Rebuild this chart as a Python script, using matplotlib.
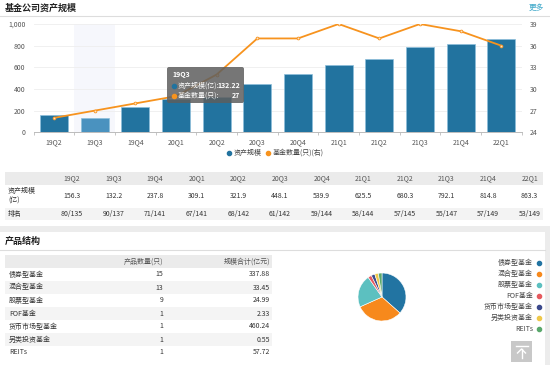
import matplotlib
matplotlib.use('Agg')
import matplotlib.pyplot as plt
from matplotlib.patches import Rectangle, FancyBboxPatch
from matplotlib.ticker import FuncFormatter
import numpy as np

plt.rcParams['font.family'] = ['Noto Sans CJK SC', 'DejaVu Sans']

# data
quarters = ['19Q2', '19Q3', '19Q4', '20Q1', '20Q2', '20Q3', '20Q4', '21Q1', '21Q2', '21Q3', '21Q4', '22Q1']
assets = [156.3, 132.2, 237.8, 309.1, 321.9, 448.1, 539.9, 625.5, 680.3, 792.1, 814.8, 863.3]
fund_counts = [26, 27, 28, 29, 32, 37, 37, 39, 37, 39, 38, 36]
ranks = ['80/135', '90/137', '71/141', '67/141', '68/142', '61/142', '59/144', '58/144', '57/145', '55/147', '57/149', '53/149']

products = ['债券型基金', '混合型基金', '股票型基金', 'FOF基金', '货币市场型基金', '另类投资基金', 'REITs']
product_counts = [15, 13, 9, 1, 1, 1, 1]
product_sizes = ['337.88', '33.45', '24.99', '2.33', '460.24', '0.55', '57.72']
pie_colors = ['#2274a2', '#f7891c', '#5cc0c0', '#e65a5f', '#3c4a8c', '#eec84a', '#5aa86c']

blue = '#22739f'
orange = '#f7931e'
txt = '#333333'

fig = plt.figure(figsize=(5.5, 3.65), dpi=100)
bg = fig.add_axes([0, 0, 1, 1])
bg.set_xlim(0, 550)
bg.set_ylim(365, 0)
bg.axis('off')

# header part
bg.text(5, 8, '基金公司资产规模', fontsize=6.5, fontweight='bold', color='#222', va='center')
bg.text(536, 8, '更多', fontsize=5.5, color='#3aa6c8', va='center', ha='center')
bg.plot([0, 550], [16, 16], color='#dddddd', lw=0.8)

# main chart
ax = fig.add_axes([33.7 / 550, 1 - 132.3 / 365, 487.9 / 550, 108.3 / 365])
ax.patch.set_alpha(0)
x = np.arange(len(quarters))
bar_cols = [blue] * len(quarters)
bar_cols[1] = '#4a92bf'
ax.axvspan(0.5, 1.5, color='#f6f7fc', zorder=0, lw=0)
ax.bar(x, assets, width=0.69, color=bar_cols, edgecolor='#8cbfdb', lw=0.5, zorder=2)
ax.set_xlim(-0.5, len(quarters) - 0.5)
ax.set_ylim(0, 1000)
ax.set_yticks(range(0, 1001, 200))
ax.yaxis.set_major_formatter(FuncFormatter(lambda v, p: f'{int(v):,}'))
ax.set_xticks(x)
ax.set_xticklabels(quarters)
ax.set_xticks(np.arange(-0.5, len(quarters)), minor=True)
ax.yaxis.grid(True, color='#eeeeee', lw=0.6)
ax.set_axisbelow(True)
for s in ['top', 'right', 'left']:
    ax.spines[s].set_visible(False)
ax.spines['bottom'].set_color('#bbbbbb')
ax.spines['bottom'].set_linewidth(0.7)
ax.tick_params(axis='y', length=0, labelsize=5, labelcolor='#555', pad=6)
ax.tick_params(axis='x', which='major', length=0, labelsize=5, labelcolor='#555', pad=4)
ax.tick_params(axis='x', which='minor', length=2.5, color='#bbbbbb', width=0.6)

ax2 = ax.twinx()
ax2.plot(x, fund_counts, color=orange, lw=1.3, marker='o', ms=2, mfc='#fde3c3', mec=orange, mew=0.6, zorder=3)
ax2.set_ylim(24, 39)
ax2.set_yticks(range(24, 40, 3))
for s in ax2.spines.values():
    s.set_visible(False)
ax2.tick_params(axis='y', length=0, labelsize=5, labelcolor='#555', pad=6)

# legend
bg.plot(229, 153, 'o', color=blue, ms=3)
bg.text(234, 153, '资产规模', fontsize=5, color='#444', va='center')
bg.plot(268, 153, 'o', color=orange, ms=3)
bg.text(273, 153, '基金数量(只)(右)', fontsize=5, color='#444', va='center')

# table 1
bg.add_patch(Rectangle((5, 172), 538, 12.5, color='#ebebeb', lw=0))
bg.add_patch(Rectangle((5, 208), 538, 12, color='#f3f3f3', lw=0))
col_x = [72 + i * 41.6 for i in range(len(quarters))]
for i, q in enumerate(quarters):
    bg.text(col_x[i], 178.5, q, fontsize=5, color='#555', ha='center', va='center')
    bg.text(col_x[i], 196, f'{assets[i]:.1f}', fontsize=5, color=txt, ha='center', va='center')
    bg.text(col_x[i], 214, ranks[i], fontsize=5, color=txt, ha='center', va='center')
bg.text(8, 191, '资产规模', fontsize=5, color=txt, va='center')
bg.text(8, 201, '(亿)', fontsize=5, color=txt, va='center')
bg.text(8, 214, '排名', fontsize=5, color=txt, va='center')

# section separators
bg.add_patch(Rectangle((0, 226), 550, 6, color='#ececec', lw=0))
bg.add_patch(Rectangle((545, 226), 5, 139, color='#ececec', lw=0))
bg.text(5, 241, '产品结构', fontsize=6.5, fontweight='bold', color='#222', va='center')
bg.plot([0, 545], [250, 250], color='#dddddd', lw=0.8)

# product table
bg.add_patch(Rectangle((5, 255), 267, 13, color='#ebebeb', lw=0))
bg.text(163, 261.5, '产品数量(只)', fontsize=5, color='#555', ha='right', va='center')
bg.text(270, 261.5, '规模合计(亿元)', fontsize=5, color='#555', ha='right', va='center')
for i, name in enumerate(products):
    yc = 274.5 + 13 * i
    if i % 2 == 1:
        bg.add_patch(Rectangle((5, yc - 6.5), 267, 13, color='#f4f4f4', lw=0))
    bg.text(9, yc, name, fontsize=5, color=txt, va='center')
    bg.text(163, yc, str(product_counts[i]), fontsize=5, color=txt, ha='right', va='center')
    bg.text(270, yc, product_sizes[i], fontsize=5, color=txt, ha='right', va='center')

# pie
axp = fig.add_axes([352 / 550, 1 - 327 / 365, 60 / 550, 60 / 365])
axp.pie(product_counts, colors=pie_colors, startangle=90, counterclock=False,
        wedgeprops=dict(edgecolor='white', linewidth=0.4))
axp.set_aspect('equal')

for i, name in enumerate(products):
    yc = 263 + 11 * i
    bg.text(533, yc, name, fontsize=5, color='#444', ha='right', va='center')
    bg.plot(539, yc, 'o', color=pie_colors[i], ms=3)

# back-to-top button
bg.add_patch(Rectangle((511, 341), 21, 21, color='#c8c8c8', lw=0))
bg.plot([515.5, 527.5], [346, 346], color='white', lw=1)
bg.plot([521.5, 521.5], [349, 358], color='white', lw=1)
bg.plot([517.5, 521.5, 525.5], [353, 349, 353], color='white', lw=1)

# tooltip on top
top = fig.add_axes([0, 0, 1, 1], zorder=10)
top.set_xlim(0, 550)
top.set_ylim(365, 0)
top.axis('off')
top.patch.set_alpha(0)
top.add_patch(FancyBboxPatch((167, 67), 77, 36, boxstyle='round,pad=0,rounding_size=2',
                             fc='#5e5e5e', ec='none', alpha=0.85))
top.text(172, 75, quarters[1], fontsize=5, fontweight='bold', color='white', va='center')
top.plot(174, 86, 'o', color=blue, ms=3)
top.text(178, 86, '资产规模(亿):', fontsize=5, color='white', va='center')
top.text(240, 86, '132.22', fontsize=5, fontweight='bold', color='white', va='center', ha='right')
top.plot(174, 96, 'o', color=orange, ms=3)
top.text(178, 96, '基金数量(只):', fontsize=5, color='white', va='center')
top.text(240, 96, str(fund_counts[1]), fontsize=5, fontweight='bold', color='white', va='center', ha='right')

fig.savefig('out.png', dpi=100)
